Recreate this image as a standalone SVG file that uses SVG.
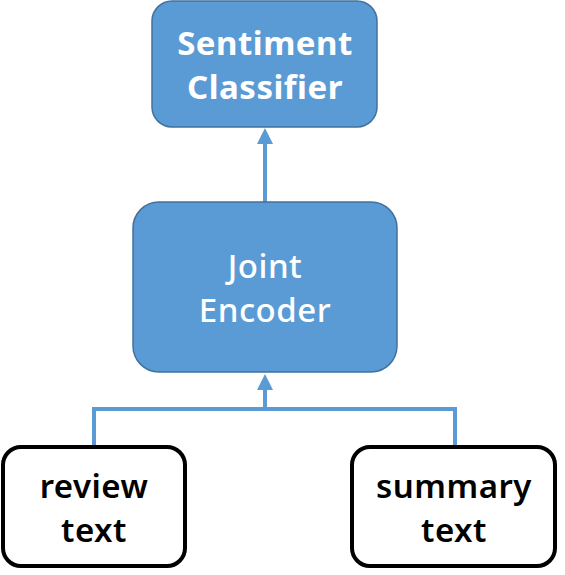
<svg xmlns="http://www.w3.org/2000/svg" width="565" height="575" viewBox="0 0 565 575">
<style>
.blue{fill:#5B9BD5;stroke:#41719C;stroke-width:1.5}
.white{fill:#fff;stroke:#000;stroke-width:4}
.t{font-family:"Noto Sans","Liberation Sans",sans-serif;font-size:33px;text-anchor:middle}
.tw{fill:#fff}
.tb{fill:#000}
.conn{fill:none;stroke:#5B9BD5;stroke-width:4}
</style>
<defs>
<marker id="ah" markerWidth="4" markerHeight="4" refX="2" refY="2" orient="auto" markerUnits="strokeWidth"><path d="M0,0 L4,2 L0,4 z" fill="#5B9BD5"/></marker>
</defs>
<rect width="565" height="575" fill="#fff"/>
<g id="connectors">
<line class="conn" x1="265" y1="202" x2="265" y2="136" marker-end="url(#ah)"/>
<polyline class="conn" points="94,446 94,409 455,409 455,446"/>
<line class="conn" x1="265" y1="409" x2="265" y2="382" marker-end="url(#ah)"/>
</g>
<g id="sentiment">
<rect class="blue" x="152" y="1" width="225" height="126" rx="20"/>
<text class="t tw" x="265" y="55" font-weight="bold" letter-spacing="0.5">Sentiment</text>
<text class="t tw" x="265" y="99" font-weight="bold" letter-spacing="0.5">Classifier</text>
</g>
<g id="joint">
<rect class="blue" x="133" y="202" width="264" height="170" rx="26"/>
<text class="t tw" x="265" y="278" font-weight="500" letter-spacing="0.5">Joint</text>
<text class="t tw" x="265" y="322" font-weight="500" letter-spacing="0.5">Encoder</text>
</g>
<g id="review">
<rect class="white" x="3" y="447" width="182" height="119" rx="18"/>
<text class="t tb" x="94" y="498" font-weight="600" letter-spacing="0.5">review</text>
<text class="t tb" x="94" y="542" font-weight="600" letter-spacing="0.5">text</text>
</g>
<g id="summary">
<rect class="white" x="352" y="447" width="203" height="119" rx="18"/>
<text class="t tb" x="454" y="498" font-weight="600" letter-spacing="0.5">summary</text>
<text class="t tb" x="454" y="542" font-weight="600" letter-spacing="0.5">text</text>
</g>
</svg>
